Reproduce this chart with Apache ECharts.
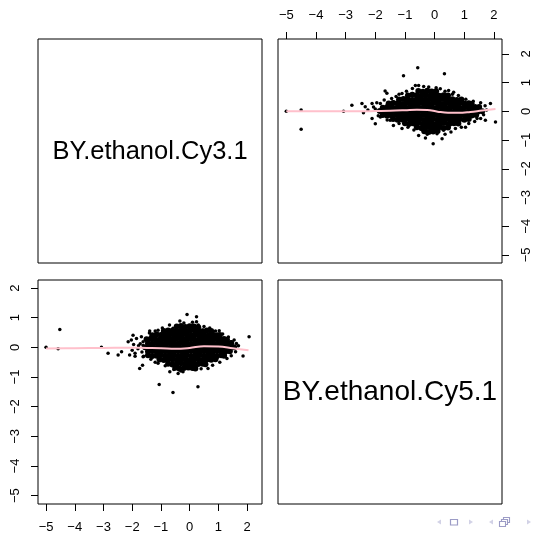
<!DOCTYPE html>
<html>
<head>
<meta charset="utf-8">
<script src="https://cdn.jsdelivr.net/npm/echarts@6/dist/echarts.min.js"></script>
<style>html,body{margin:0;padding:0;background:#fff}#c{width:535px;height:536px}</style>
</head>
<body>
<div id="c"></div>
<script>
// ---- data ----
const panelLabels = ['BY.ethanol.Cy3.1', 'BY.ethanol.Cy5.1'];
const tickValues = [-5, -4, -3, -2, -1, 0, 1, 2];
const var1Range = [-5.28, 2.52];
const var2Range = [-5.28, 2.27];

// top-right panel
const trCore = [
[-0.55,0.71],[-0.4,0.68],[-0.25,0.72],[-0.1,0.69],[0.05,0.7],
[-0.9,0.55],[-0.75,0.58],[-0.6,0.56],[-0.45,0.54],[-0.3,0.57],[-0.15,0.55],[0.0,0.58],[0.15,0.54],[0.3,0.56],[0.45,0.55],
[-1.2,0.41],[-1.05,0.43],[-0.9,0.42],[-0.75,0.4],[-0.6,0.43],[-0.45,0.42],[-0.3,0.41],[-0.15,0.44],[0.0,0.42],[0.15,0.4],[0.3,0.43],[0.45,0.41],[0.6,0.42],[0.75,0.4],[0.9,0.41],
[-1.55,0.27],[-1.4,0.29],[-1.25,0.28],[-1.1,0.26],[-0.95,0.29],[-0.8,0.28],[-0.65,0.27],[-0.5,0.3],[-0.35,0.28],[-0.2,0.27],[-0.05,0.29],[0.1,0.28],[0.25,0.26],[0.4,0.29],[0.55,0.28],[0.7,0.27],[0.85,0.29],[1.0,0.27],[1.15,0.28],[1.25,0.26],
[-1.75,0.13],[-1.6,0.15],[-1.45,0.14],[-1.3,0.12],[-1.15,0.15],[-1.0,0.14],[-0.85,0.13],[-0.7,0.15],[-0.55,0.14],[-0.4,0.13],[-0.25,0.15],[-0.1,0.14],[0.05,0.12],[0.2,0.15],[0.35,0.14],[0.5,0.13],[0.65,0.15],[0.8,0.14],[0.95,0.12],[1.1,0.15],[1.25,0.14],[1.4,0.13],[1.5,0.15],
[-1.85,0.01],[-1.7,-0.01],[-1.55,0.0],[-1.4,0.02],[-1.25,-0.01],[-1.1,0.0],[-0.95,0.01],[-0.8,-0.01],[-0.65,0.0],[-0.5,0.02],[-0.35,-0.01],[-0.2,0.0],[-0.05,0.01],[0.1,-0.01],[0.25,0.0],[0.4,0.02],[0.55,-0.01],[0.7,0.0],[0.85,0.01],[1.0,-0.01],[1.15,0.0],[1.3,0.02],[1.45,-0.01],[1.6,0.0],
[-1.75,-0.13],[-1.6,-0.15],[-1.45,-0.14],[-1.3,-0.12],[-1.15,-0.15],[-1.0,-0.14],[-0.85,-0.13],[-0.7,-0.15],[-0.55,-0.14],[-0.4,-0.13],[-0.25,-0.15],[-0.1,-0.14],[0.05,-0.12],[0.2,-0.15],[0.35,-0.14],[0.5,-0.13],[0.65,-0.15],[0.8,-0.14],[0.95,-0.12],[1.1,-0.15],[1.25,-0.14],[1.4,-0.13],
[-1.4,-0.27],[-1.25,-0.29],[-1.1,-0.28],[-0.95,-0.26],[-0.8,-0.29],[-0.65,-0.28],[-0.5,-0.27],[-0.35,-0.3],[-0.2,-0.28],[-0.05,-0.27],[0.1,-0.29],[0.25,-0.28],[0.4,-0.26],[0.55,-0.29],[0.7,-0.28],[0.85,-0.27],[1.0,-0.29],[1.15,-0.27],
[-1.0,-0.41],[-0.85,-0.43],[-0.7,-0.42],[-0.55,-0.4],[-0.4,-0.43],[-0.25,-0.42],[-0.1,-0.41],[0.05,-0.44],[0.2,-0.42],[0.35,-0.4],[0.5,-0.43],[0.65,-0.41],[0.8,-0.42],
[-0.6,-0.55],[-0.45,-0.58],[-0.3,-0.56],[-0.15,-0.54],[0.0,-0.57],[0.15,-0.55],[0.3,-0.58],[0.45,-0.56],
[-0.35,-0.69],[-0.2,-0.72],[-0.05,-0.7],[0.1,-0.68]
];
const trSpread = [
[-5.0,0.0],[-4.5,0.05],[-4.5,-0.62],[-3.07,0.0],
[-0.57,1.52],[-1.05,1.24],[0.33,1.31],
[-2.79,0.21],[-2.45,0.27],[-2.34,0.16],[-2.11,0.27],[-2.06,0.15],[-1.83,0.27],[-1.67,0.71],[-1.61,0.63],[-1.1,0.62],
[-0.54,0.9],[-0.37,0.87],[-0.15,0.73],[0.19,0.79],[-0.76,0.62],[-1.38,0.33],
[-2.11,-0.25],[-2.0,-0.43],[-1.83,-0.2],[-1.5,-0.31],[-1.39,-0.49],[-1.1,-0.6],[-0.88,-0.49],[-0.54,-0.84],[-0.31,-0.93],
[-0.05,-1.13],[0.08,-0.78],[0.25,-0.95],[-0.15,-0.66],[-0.43,-0.63],
[1.88,0.27],[2.05,-0.37],[1.71,-0.31],[1.43,-0.25],[1.04,-0.55],[0.47,0.73],[0.64,0.67],[0.98,0.27],[1.26,0.15],[1.37,0.2],[0.3,-0.66],[1.26,-0.14],
[-1.45,0.45],[-1.3,0.52],[-0.95,0.7],[-0.75,0.8],[-0.65,0.9],[-0.2,0.85],[0.05,0.82],[0.35,0.7],[0.6,0.6],[0.8,0.55],[1.05,0.42],[1.3,0.35],[1.55,0.3],[1.7,0.2],[1.75,0.05],[1.65,-0.12],[1.55,-0.25],[1.35,-0.35],[1.15,-0.42],[0.9,-0.55],[0.7,-0.6],[0.55,-0.72],[0.35,-0.8],[-0.25,-0.8],[-0.7,-0.65],[-0.9,-0.55],[-1.2,-0.42],[-1.6,-0.3],[-1.9,-0.15],[-2.0,0.08],[-1.95,0.3],[-2.25,0.05],[-2.4,-0.05],[-1.7,0.4],[-1.2,0.6]
];
const trLoess = [[-5.0,0.0],[-4.0,0.0],[-3.0,0.0],[-2.5,0.0],[-2.0,0.01],[-1.5,0.02],[-1.0,0.04],[-0.6,0.06],[-0.25,0.05],[0.1,-0.01],[0.45,-0.05],[0.8,-0.05],[1.2,-0.02],[1.6,0.03],[2.05,0.08]];

// bottom-left panel
const blCore = [
[-0.45,0.7],[-0.3,0.72],[-0.15,0.69],[0.0,0.71],[0.15,0.7],[0.3,0.68],
[-0.9,0.55],[-0.75,0.57],[-0.6,0.56],[-0.45,0.54],[-0.3,0.57],[-0.15,0.55],[0.0,0.56],[0.15,0.58],[0.3,0.55],[0.45,0.54],[0.6,0.57],[0.75,0.55],
[-1.3,0.41],[-1.15,0.43],[-1.0,0.42],[-0.85,0.4],[-0.7,0.43],[-0.55,0.42],[-0.4,0.41],[-0.25,0.44],[-0.1,0.42],[0.05,0.4],[0.2,0.43],[0.35,0.41],[0.5,0.42],[0.65,0.4],[0.8,0.43],[0.95,0.41],[1.05,0.42],
[-1.5,0.27],[-1.35,0.29],[-1.2,0.28],[-1.05,0.26],[-0.9,0.29],[-0.75,0.28],[-0.6,0.27],[-0.45,0.3],[-0.3,0.28],[-0.15,0.27],[0.0,0.29],[0.15,0.28],[0.3,0.26],[0.45,0.29],[0.6,0.28],[0.75,0.27],[0.9,0.29],[1.05,0.27],[1.2,0.28],[1.3,0.26],
[-1.45,0.14],[-1.3,0.12],[-1.15,0.15],[-1.0,0.14],[-0.85,0.13],[-0.7,0.15],[-0.55,0.14],[-0.4,0.13],[-0.25,0.15],[-0.1,0.14],[0.05,0.12],[0.2,0.15],[0.35,0.14],[0.5,0.13],[0.65,0.15],[0.8,0.14],[0.95,0.12],[1.1,0.15],[1.25,0.14],[1.4,0.13],[1.45,0.15],
[-1.55,0.0],[-1.4,0.02],[-1.25,-0.01],[-1.1,0.0],[-0.95,0.01],[-0.8,-0.01],[-0.65,0.0],[-0.5,0.02],[-0.35,-0.01],[-0.2,0.0],[-0.05,0.01],[0.1,-0.01],[0.25,0.0],[0.4,0.02],[0.55,-0.01],[0.7,0.0],[0.85,0.01],[1.0,-0.01],[1.15,0.0],[1.3,0.02],[1.45,-0.01],[1.55,0.0],
[-1.45,-0.14],[-1.3,-0.12],[-1.15,-0.15],[-1.0,-0.14],[-0.85,-0.13],[-0.7,-0.15],[-0.55,-0.14],[-0.4,-0.13],[-0.25,-0.15],[-0.1,-0.14],[0.05,-0.12],[0.2,-0.15],[0.35,-0.14],[0.5,-0.13],[0.65,-0.15],[0.8,-0.14],[0.95,-0.12],[1.1,-0.15],[1.25,-0.14],[1.4,-0.13],
[-1.45,-0.27],[-1.3,-0.29],[-1.15,-0.28],[-1.0,-0.26],[-0.85,-0.29],[-0.7,-0.28],[-0.55,-0.27],[-0.4,-0.3],[-0.25,-0.28],[-0.1,-0.27],[0.05,-0.29],[0.2,-0.28],[0.35,-0.26],[0.5,-0.29],[0.65,-0.28],[0.8,-0.27],[0.95,-0.29],[1.1,-0.27],[1.2,-0.28],
[-1.05,-0.41],[-0.9,-0.43],[-0.75,-0.42],[-0.6,-0.4],[-0.45,-0.43],[-0.3,-0.42],[-0.15,-0.41],[0.0,-0.44],[0.15,-0.42],[0.3,-0.4],[0.45,-0.43],[0.6,-0.41],[0.75,-0.42],[0.9,-0.4],
[-0.75,-0.55],[-0.6,-0.58],[-0.45,-0.56],[-0.3,-0.54],[-0.15,-0.57],[0.0,-0.55],[0.15,-0.58],[0.3,-0.56],[0.45,-0.55],[0.55,-0.57],
[-0.5,-0.69],[-0.35,-0.72],[-0.2,-0.7],[-0.05,-0.68],[0.1,-0.7],[0.2,-0.71]
];
const blSpread = [
[-5.0,0.0],[-4.52,0.6],[-4.58,-0.05],[-3.07,0.0],[-2.84,-0.2],
[-0.09,1.11],[0.24,0.86],[-0.58,0.64],[-0.34,0.89],[0.01,0.64],[-1.39,0.55],[-1.1,0.58],[-1.97,0.41],[-2.03,0.25],[-2.14,0.19],[-1.68,0.36],[-1.62,0.19],[-0.81,0.41],
[-2.49,-0.26],[-2.37,-0.15],[-2.09,-0.26],[-1.9,-0.2],[-1.74,-0.71],[-1.64,-0.6],[-1.62,-0.32],[-1.1,-0.54],[-1.06,-1.25],[-0.58,-1.52],[0.29,-1.33],[-0.69,-0.82],[-0.4,-0.88],[-0.23,-0.82],[0.0,-0.71],[0.24,-0.6],
[0.24,1.03],[2.07,0.36],[1.86,-0.29],[1.63,0.13],[1.46,0.19],[1.03,0.56],[1.4,-0.09],[1.23,-0.26],[0.94,-0.37],[0.64,-0.71],[0.47,0.58],[0.3,0.75],
[-1.95,0.1],[-2.0,-0.1],[-1.85,0.3],[-1.4,0.48],[-1.2,0.55],[-0.95,0.65],[-0.7,0.75],[-0.2,0.82],[0.1,0.85],[0.5,0.7],[0.7,0.65],[0.9,0.55],[1.15,0.45],[1.35,0.35],[1.55,0.25],[1.7,0.05],[1.6,-0.15],[1.45,-0.28],[1.3,-0.38],[1.05,-0.5],[0.8,-0.6],[0.4,-0.72],[-0.3,-0.8],[-0.55,-0.75],[-0.85,-0.62],[-1.2,-0.5],[-1.35,-0.4],[-1.6,-0.3],[-1.9,-0.3],
[-1.72,0.12],[-1.8,-0.05],[-1.66,-0.16],[-1.78,0.05],[-1.62,0.06]
];
const blLoess = [[-5.0,-0.04],[-4.0,-0.03],[-3.0,-0.02],[-2.0,-0.01],[-1.5,-0.02],[-1.0,-0.03],[-0.5,-0.05],[0.0,-0.02],[0.5,0.04],[1.0,0.03],[1.5,-0.03],[2.05,-0.1]];

// ---- chart ----
const FONT = 'Liberation Sans, Arial, Helvetica, sans-serif';
const fmt = v => String(v).replace('-', '\u2212');
const grids = [
  {left: 38, top: 39, width: 224, height: 224},
  {left: 278, top: 39, width: 224, height: 224},
  {left: 38, top: 280, width: 224, height: 224},
  {left: 278, top: 280, width: 224, height: 224}
].map(g => Object.assign({show: true, borderColor: '#000', borderWidth: 1, backgroundColor: 'transparent'}, g));

function shownAxis(gridIndex, position, range, rotate, margin) {
  return {
    type: 'value', gridIndex, position, min: range[0], max: range[1],
    axisLine: {show: false, onZero: false},
    splitLine: {show: false},
    axisTick: {show: true, inside: false, length: 7, customValues: tickValues, lineStyle: {color: '#000', width: 1}},
    axisLabel: {show: true, customValues: tickValues, formatter: fmt, rotate: rotate, margin: margin,
      color: '#000', fontSize: 13, fontFamily: FONT}
  };
}
function hiddenAxis(gridIndex) {
  return {type: 'value', gridIndex, show: false, min: 0, max: 1};
}

const dotSeries = (data, xi, size) => ({
  type: 'scatter', xAxisIndex: xi, yAxisIndex: xi, data, symbol: 'circle', symbolSize: size,
  itemStyle: {color: '#000', opacity: 1}, silent: true, animation: false, z: 2
});
const loessSeries = (data, xi) => ({
  type: 'line', xAxisIndex: xi, yAxisIndex: xi, data, smooth: 0.4, showSymbol: false,
  lineStyle: {color: '#ffc0cb', width: 2, opacity: 1}, silent: true, animation: false, z: 5
});

const navColor = '#9c9cc6';
const navLight = '#d2d2e6';
const option = {
  backgroundColor: '#fff',
  animation: false,
  grid: grids,
  xAxis: [hiddenAxis(0), shownAxis(1, 'top', var2Range, 0, 17), shownAxis(2, 'bottom', var1Range, 0, 17), hiddenAxis(3)],
  yAxis: [hiddenAxis(0), shownAxis(1, 'right', var1Range, 90, 18), shownAxis(2, 'left', var2Range, 90, 16), hiddenAxis(3)],
  series: [
    dotSeries(trCore, 1, 6), dotSeries(trSpread, 1, 3.5), loessSeries(trLoess, 1),
    dotSeries(blCore, 2, 6), dotSeries(blSpread, 2, 3.5), loessSeries(blLoess, 2)
  ],
  graphic: [
    {type: 'text', x: 150, y: 152, style: {text: panelLabels[0], font: '25.5px ' + FONT, fill: '#000', textAlign: 'center', textVerticalAlign: 'middle'}},
    {type: 'text', x: 390, y: 392, style: {text: panelLabels[1], font: '28px ' + FONT, fill: '#000', textAlign: 'center', textVerticalAlign: 'middle'}},
    {type: 'polygon', shape: {points: [[441,519.5],[437,522],[441,524.5]]}, style: {fill: navLight}},
    {type: 'rect', shape: {x: 450.5, y: 519.5, width: 7, height: 5.5}, style: {fill: 'none', stroke: navColor, lineWidth: 1.2}},
    {type: 'polygon', shape: {points: [[469,519.5],[473,522],[469,524.5]]}, style: {fill: navLight}},
    {type: 'polygon', shape: {points: [[493,519.5],[489,522],[493,524.5]]}, style: {fill: navLight}},
    {type: 'rect', shape: {x: 503.5, y: 517.5, width: 6, height: 5}, style: {fill: '#fff', stroke: navColor, lineWidth: 1.1}},
    {type: 'rect', shape: {x: 501.5, y: 519.5, width: 6, height: 5}, style: {fill: '#fff', stroke: navColor, lineWidth: 1.1}},
    {type: 'rect', shape: {x: 499.5, y: 521.5, width: 6, height: 5}, style: {fill: '#fff', stroke: navColor, lineWidth: 1.1}},
    {type: 'polygon', shape: {points: [[527,519.5],[531,522],[527,524.5]]}, style: {fill: navLight}}
  ]
};
const chart = echarts.init(document.getElementById('c'), null, {renderer: 'canvas'});
chart.setOption(option);
</script>
</body>
</html>
